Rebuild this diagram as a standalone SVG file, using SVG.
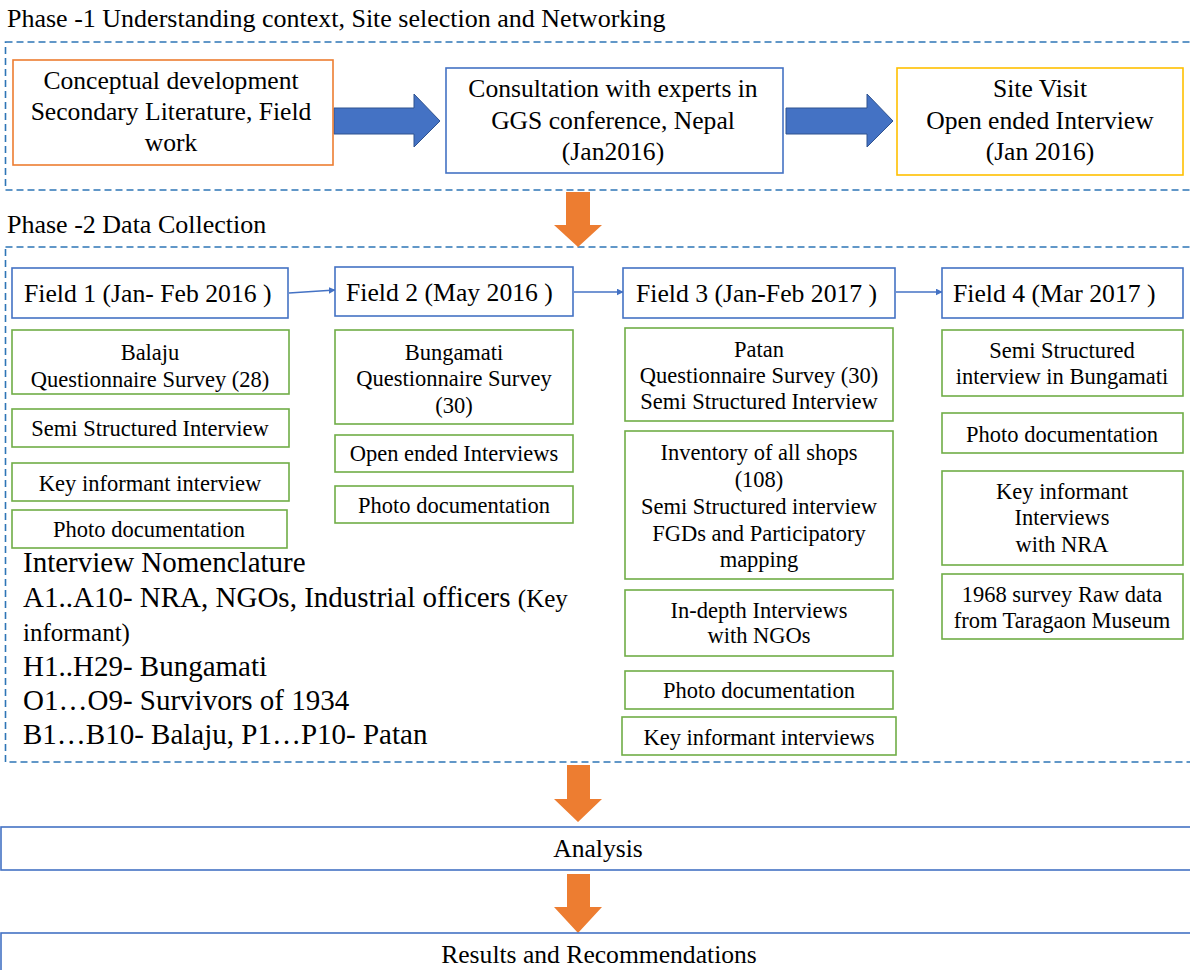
<svg xmlns="http://www.w3.org/2000/svg" width="1190" height="970" viewBox="0 0 1190 970">
<style>
text{font-family:"Liberation Serif","Times New Roman",serif;fill:#000}
.ttl{font-size:26px}
.big{font-size:25.6px;text-anchor:middle}
.hdr{font-size:25.7px}
.g{font-size:22.5px;text-anchor:middle}
.nom{font-size:29px}
.sm{font-size:25px}
.dash{fill:none;stroke:#2E75B6;stroke-width:1.6;stroke-dasharray:7 4}
.bb{fill:#fff;stroke:#4472C4;stroke-width:1.6}
.gb{fill:#fff;stroke:#70AD47;stroke-width:1.6}
.ob{fill:#fff;stroke:#ED7D31;stroke-width:1.6}
.yb{fill:#fff;stroke:#FFC000;stroke-width:1.6}
.barrow{fill:#4472C4;stroke:#2F528F;stroke-width:1}
.oarrow{fill:#ED7D31}
.thin{stroke:#4472C4;stroke-width:1.3;fill:none;marker-end:url(#ah)}
</style>
<defs>
<marker id="ah" viewBox="0 0 10 10" refX="9" refY="5" markerWidth="7" markerHeight="7" markerUnits="userSpaceOnUse" orient="auto">
<path d="M0,0 L10,5 L0,10 z" fill="#4472C4"/>
</marker>
</defs>
<rect width="1190" height="970" fill="#fff"/>

<g id="phase1">
<text class="ttl" x="7" y="27">Phase -1 Understanding context, Site selection and Networking</text>
<rect class="dash" x="5.5" y="42" width="1200" height="148"/>
</g>
<g id="phase2">
<text class="ttl" x="7" y="233">Phase -2 Data Collection</text>
<rect class="dash" x="5.5" y="247" width="1200" height="515"/>
</g>

<g id="connectors">
<path class="barrow" d="M334,108 H414 V94 L440,121 L414,147 V134 H334 Z"/>
<path class="barrow" d="M786,108 H867 V94 L893,121 L867,147 V134 H786 Z"/>
<path class="oarrow" d="M566,192 H590 V225 H602 L578,247 L554,225 H566 Z"/>
<path class="oarrow" d="M567,765 H590 V799 H602 L578,822 L554,799 H567 Z"/>
<path class="oarrow" d="M567,874 H590 V907 H602 L578,933 L554,907 H567 Z"/>
<line class="thin" x1="289" y1="293" x2="335" y2="290"/>
<line class="thin" x1="574" y1="292" x2="623" y2="292"/>
<line class="thin" x1="896" y1="292" x2="942" y2="292"/>
</g>

<g id="concept">
<rect class="ob" x="13" y="60" width="320" height="105"/>
<text class="big" x="171" y="89">Conceptual development</text>
<text class="big" x="171" y="120">Secondary Literature, Field</text>
<text class="big" x="171" y="151">work</text>
</g>
<g id="consult">
<rect class="bb" x="446" y="68" width="337" height="105"/>
<text class="big" x="613" y="97">Consultation with experts in</text>
<text class="big" x="613" y="129">GGS conference, Nepal</text>
<text class="big" x="613" y="160">(Jan2016)</text>
</g>
<g id="sitevisit">
<rect class="yb" x="897" y="68" width="286" height="107"/>
<text class="big" x="1040" y="97">Site Visit</text>
<text class="big" x="1040" y="129">Open ended Interview</text>
<text class="big" x="1040" y="160">(Jan 2016)</text>
</g>

<g id="field1">
<rect class="bb" x="12" y="268" width="276" height="50"/>
<text class="hdr" x="24" y="302">Field 1 (Jan- Feb 2016 )</text>
</g>
<g id="field2">
<rect class="bb" x="335" y="267" width="238" height="49"/>
<text class="hdr" x="346" y="301">Field 2 (May 2016 )</text>
</g>
<g id="field3">
<rect class="bb" x="623" y="268" width="272" height="50"/>
<text class="hdr" x="636" y="302">Field 3 (Jan-Feb 2017 )</text>
</g>
<g id="field4">
<rect class="bb" x="942" y="268" width="241" height="50"/>
<text class="hdr" x="953" y="302">Field 4 (Mar 2017 )</text>
</g>

<g id="f1-balaju">
<rect class="gb" x="12" y="330" width="277" height="64"/>
<text class="g" x="150" y="360">Balaju</text>
<text class="g" x="150" y="387">Questionnaire Survey (28)</text>
</g>
<g id="f1-semi">
<rect class="gb" x="12" y="409" width="277" height="38"/>
<text class="g" x="150" y="436">Semi Structured Interview</text>
</g>
<g id="f1-key">
<rect class="gb" x="12" y="463" width="277" height="38"/>
<text class="g" x="150" y="491">Key informant interview</text>
</g>
<g id="f1-photo">
<rect class="gb" x="12" y="510" width="275" height="38"/>
<text class="g" x="149" y="537">Photo documentation</text>
</g>

<g id="f2-bung">
<rect class="gb" x="335" y="330" width="238" height="94"/>
<text class="g" x="454" y="360">Bungamati</text>
<text class="g" x="454" y="386">Questionnaire Survey</text>
<text class="g" x="454" y="413">(30)</text>
</g>
<g id="f2-open">
<rect class="gb" x="335" y="435" width="238" height="37"/>
<text class="g" x="454" y="461">Open ended Interviews</text>
</g>
<g id="f2-photo">
<rect class="gb" x="335" y="486" width="238" height="37"/>
<text class="g" x="454" y="513">Photo documentation</text>
</g>

<g id="f3-patan">
<rect class="gb" x="625" y="328" width="268" height="93"/>
<text class="g" x="759" y="357">Patan</text>
<text class="g" x="759" y="383">Questionnaire Survey (30)</text>
<text class="g" x="759" y="409">Semi Structured Interview</text>
</g>
<g id="f3-inventory">
<rect class="gb" x="625" y="431" width="268" height="148"/>
<text class="g" x="759" y="460">Inventory of all shops</text>
<text class="g" x="759" y="487">(108)</text>
<text class="g" x="759" y="514">Semi Structured interview</text>
<text class="g" x="759" y="541">FGDs and Participatory</text>
<text class="g" x="759" y="567">mapping</text>
</g>
<g id="f3-indepth">
<rect class="gb" x="625" y="590" width="268" height="66"/>
<text class="g" x="759" y="618">In-depth Interviews</text>
<text class="g" x="759" y="643">with NGOs</text>
</g>
<g id="f3-photo">
<rect class="gb" x="625" y="671" width="268" height="38"/>
<text class="g" x="759" y="698">Photo documentation</text>
</g>
<g id="f3-key">
<rect class="gb" x="622" y="717" width="274" height="38"/>
<text class="g" x="759" y="745">Key informant interviews</text>
</g>

<g id="f4-semi">
<rect class="gb" x="942" y="330" width="241" height="66"/>
<text class="g" x="1062" y="358">Semi Structured</text>
<text class="g" x="1062" y="384">interview in Bungamati</text>
</g>
<g id="f4-photo">
<rect class="gb" x="942" y="413" width="241" height="40"/>
<text class="g" x="1062" y="442">Photo documentation</text>
</g>
<g id="f4-key">
<rect class="gb" x="942" y="471" width="241" height="94"/>
<text class="g" x="1062" y="499">Key informant</text>
<text class="g" x="1062" y="525">Interviews</text>
<text class="g" x="1062" y="552">with NRA</text>
</g>
<g id="f4-1968">
<rect class="gb" x="942" y="574" width="241" height="65"/>
<text class="g" x="1062" y="602">1968 survey Raw data</text>
<text class="g" x="1062" y="628">from Taragaon Museum</text>
</g>

<g id="nomenclature">
<text class="nom" x="23" y="572">Interview Nomenclature</text>
<text class="nom" x="23" y="607">A1..A10- NRA, NGOs, Industrial officers <tspan class="sm">(Key</tspan></text>
<text class="sm" x="23" y="641">informant)</text>
<text class="nom" x="23" y="676">H1..H29- Bungamati</text>
<text class="nom" x="23" y="710">O1…O9- Survivors of 1934</text>
<text class="nom" x="23" y="744">B1…B10- Balaju, P1…P10- Patan</text>
</g>

<g id="analysis">
<rect class="bb" x="1" y="827" width="1200" height="43" stroke-width="2"/>
<text class="big" x="598" y="857" font-size="24.5">Analysis</text>
</g>
<g id="results">
<rect class="bb" x="1" y="933" width="1200" height="60" stroke-width="2"/>
<text class="big" x="599" y="963" font-size="24.5">Results and Recommendations</text>
</g>
</svg>
